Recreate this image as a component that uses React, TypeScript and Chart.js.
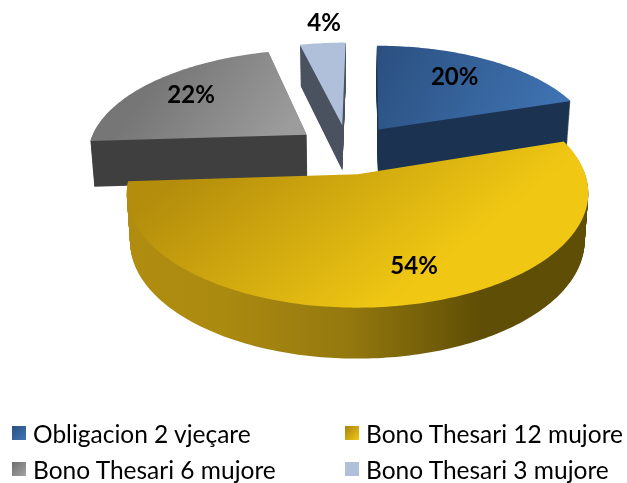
import React, { useEffect, useRef } from "react";
import { Chart, registerables } from "chart.js";

Chart.register(...registerables);

const categories = ["Obligacion 2 vjeçare", "Bono Thesari 12 mujore", "Bono Thesari 6 mujore", "Bono Thesari 3 mujore"];
const shares = [20, 54, 22, 4];
const explode = [24, 24, 24, 24];
const labelRadius = [0.71, 0.76, 0.73, 1.28];
const labelTurn = [-2, -6, -0.5, 1.5];
const drawOrder = [0, 3, 2, 1];
const baseColors = ["#3a6ba8", "#e0b510", "#8c8c8c", "#b0c0da"];

type Stops = [number, string][];
const topFill: { line: number[]; stops: Stops }[] = [
  { line: [380, 45, 560, 130], stops: [[0, "#2b5080"], [1, "#4075b5"]] },
  { line: [240, 130, 385, 310], stops: [[0, "#b48d0c"], [1, "#f0c813"]] },
  { line: [170, 60, 280, 140], stops: [[0, "#767676"], [1, "#9c9c9c"]] },
  { line: [0, 0, 0, 100], stops: [[0, "#b0c0da"], [1, "#b0c0da"]] },
];
const wallFill: { line: number[]; stops: Stops }[] = [
  { line: [0, 0, 600, 0], stops: [[0, "#1b3350"], [1, "#1b3350"]] },
  {
    line: [130, 0, 590, 0],
    stops: [[0, "#b08d10"], [0.2, "#ab8a10"], [0.47, "#95790f"], [0.68, "#6e5a08"], [0.76, "#5f4e05"], [1, "#5f4e05"]],
  },
  { line: [0, 0, 600, 0], stops: [[0, "#3f3f3f"], [1, "#3f3f3f"]] },
  { line: [0, 0, 600, 0], stops: [[0, "#4a5260"], [1, "#4a5260"]] },
];

// camera that lays the pie's plane down on the page
const VIEW = { x0: 348, y0: 149, a: 219, b: 103, k: 0.16, skew: 2.5, depth: 46, depthSlope: 4, taper: 0.015 };

function project(u: number, v: number, t: number) {
  const w = 1 / (1 - VIEW.k * v);
  const x = VIEW.x0 + VIEW.a * u * w * (1 - VIEW.taper * t) - VIEW.skew * v;
  const y = VIEW.y0 + VIEW.b * v * w + t * (VIEW.depth + VIEW.depthSlope * v);
  return { x, y };
}

function planeApex(el: any) {
  const mid = (el.startAngle + el.endAngle) / 2;
  const e = (el.options.offset || 0) / el.outerRadius;
  return { u: Math.cos(mid) * e, v: Math.sin(mid) * e, mid };
}

function tracePath(ctx: CanvasRenderingContext2D, el: any, t: number) {
  const { u, v } = planeApex(el);
  ctx.beginPath();
  const apex = project(u, v, t);
  ctx.moveTo(apex.x, apex.y);
  const steps = Math.max(4, Math.ceil(((el.endAngle - el.startAngle) * 180) / Math.PI));
  for (let i = 0; i <= steps; i++) {
    const a = el.startAngle + ((el.endAngle - el.startAngle) * i) / steps;
    const p = project(u + Math.cos(a), v + Math.sin(a), t);
    ctx.lineTo(p.x, p.y);
  }
  ctx.closePath();
}

function gradient(ctx: CanvasRenderingContext2D, spec: { line: number[]; stops: Stops }) {
  const g = ctx.createLinearGradient(spec.line[0], spec.line[1], spec.line[2], spec.line[3]);
  spec.stops.forEach(([o, c]) => g.addColorStop(o, c));
  return g;
}

const pie3d = {
  id: "pie3d",
  beforeDatasetDraw(chart: any) {
    const ctx: CanvasRenderingContext2D = chart.ctx;
    const arcs = chart.getDatasetMeta(0).data;
    ctx.save();
    drawOrder.forEach((i) => {
      const el = arcs[i];
      ctx.fillStyle = gradient(ctx, wallFill[i]);
      for (let s = 60; s >= 1; s--) {
        tracePath(ctx, el, s / 60);
        ctx.fill();
      }
      ctx.fillStyle = gradient(ctx, topFill[i]);
      tracePath(ctx, el, 0);
      ctx.fill();
    });
    ctx.fillStyle = "#000";
    ctx.font = "bold 24px Lato";
    ctx.textAlign = "center";
    ctx.textBaseline = "middle";
    arcs.forEach((el: any, i: number) => {
      const { u, v, mid } = planeApex(el);
      const a = mid + (labelTurn[i] * Math.PI) / 180;
      const p = project(u + Math.cos(a) * labelRadius[i], v + Math.sin(a) * labelRadius[i], 0);
      ctx.fillText(`${shares[i]}%`, p.x, p.y);
    });
    ctx.restore();
    return false;
  },
};

const swatches = [
  "linear-gradient(135deg,#2b5080,#4075b5)",
  "linear-gradient(135deg,#a8830c,#f0c813)",
  "linear-gradient(135deg,#6e6e6e,#a4a4a4)",
  "#b0c0da",
];
const legendLeft = [12, 345, 12, 345];
const legendTop = [426, 426, 462, 462];

export default function App() {
  const ref = useRef<HTMLCanvasElement>(null);
  useEffect(() => {
    document.body.style.margin = "0";
    const chart = new Chart(ref.current!, {
      type: "pie",
      data: {
        labels: categories,
        datasets: [{ data: shares, backgroundColor: baseColors, offset: explode, borderWidth: 0 }],
      },
      options: {
        animation: false,
        responsive: false,
        radius: 100,
        plugins: { legend: { display: false }, tooltip: { enabled: false } },
      } as any,
      plugins: [pie3d as any],
    });
    return () => chart.destroy();
  }, []);
  return (
    <div style={{ position: "relative", width: 627, height: 483, overflow: "hidden", background: "#fff" }}>
      <canvas ref={ref} width={627} height={483} style={{ display: "block" }} />
      {categories.map((name, i) => (
        <div
          key={name}
          style={{
            position: "absolute",
            left: legendLeft[i],
            top: legendTop[i] - 7,
            height: 28,
            display: "flex",
            alignItems: "center",
            whiteSpace: "nowrap",
            font: "24.5px Lato",
            color: "#000",
          }}
        >
          <span style={{ display: "inline-block", width: 14, height: 14, marginRight: 7, background: swatches[i] }} />
          {name}
        </div>
      ))}
    </div>
  );
}
